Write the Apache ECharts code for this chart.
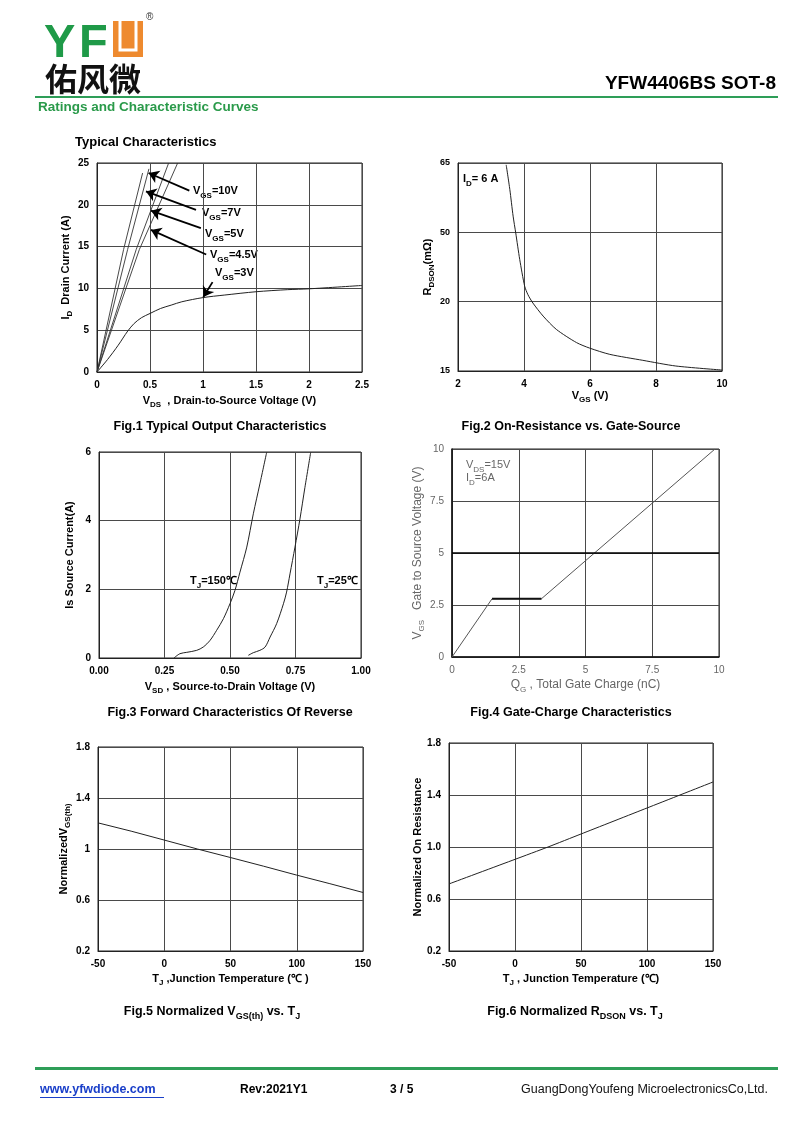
<!DOCTYPE html>
<html><head><meta charset="utf-8">
<script src="https://cdn.jsdelivr.net/npm/echarts@6/dist/echarts.min.js"></script>
<style>html,body{margin:0;padding:0;background:#fff}#c{width:800px;height:1130px}</style>
</head><body><div id="c"></div>
<script>
const F = '"Liberation Sans", Arial, Helvetica, sans-serif';
const CJK = '"Noto Sans CJK SC", sans-serif';

// ---------- Fig.1 Typical Output Characteristics ----------
const fig1XTicks = [0, 2.5, 0.5];   // min, max, interval
const fig1YTicks = [0, 25, 5];
const vgs3vV = [0, 0.1, 0.2, 0.29, 0.35, 0.42, 0.5, 0.6, 0.7, 0.8, 1.0, 1.2, 1.5, 1.8, 2.0, 2.5];
const vgs3vI = [0, 1.5, 3.2, 4.9, 5.8, 6.5, 7.0, 7.6, 8.0, 8.4, 8.9, 9.2, 9.6, 9.85, 9.95, 10.35];
const steepV = [[0, 0.251, 0.43], [0, 0.289, 0.49], [0, 0.37, 0.676], [0, 0.40, 0.761]];
const steepI = [[0, 14.66, 23.8], [0, 14.66, 24.3], [0, 14.66, 25], [0, 14.66, 25]];
const arrowNames = ['10V', '7V', '5V', '4.5V', '3V'];
const arrowTail = [[0.871, 21.7], [0.934, 19.4], [0.98, 17.2], [1.03, 14.05], [1.09, 10.75]];
const arrowTip = [[0.487, 23.8], [0.462, 21.6], [0.509, 19.3], [0.509, 17.0], [1.003, 8.96]];

// ---------- Fig.2 On-Resistance vs Gate-Source ----------
const fig2XTicks = [2, 10, 2];
const fig2YLabels = [15, 20, 50, 65];   // evenly spaced tick labels as printed
const fig2Vgs = [3.46, 3.57, 3.67, 3.75, 3.87, 4.02, 4.12, 4.27, 4.58, 4.98, 5.59, 5.99, 6.6, 7.6, 8.6, 10];
const fig2R = [64.6, 59.3, 53.5, 49.7, 38.3, 26.7, 23.0, 19.9, 18.96, 18.0, 17.05, 16.65, 16.2, 15.77, 15.36, 15.07];

// ---------- Fig.3 Forward Characteristics of Reverse ----------
const fig3XTicks = [0, 1, 0.25];
const fig3YTicks = [0, 6, 2];
const t150V = [0.286, 0.309, 0.335, 0.373, 0.398, 0.424, 0.449, 0.475, 0.5, 0.519, 0.538, 0.564, 0.589, 0.614, 0.64];
const t150I = [0, 0.126, 0.165, 0.223, 0.32, 0.515, 0.806, 1.146, 1.583, 1.97, 2.5, 3.23, 4.2, 5.07, 5.99];
const t25V = [0.57, 0.589, 0.614, 0.634, 0.653, 0.678, 0.704, 0.716, 0.729, 0.748, 0.767, 0.786, 0.808];
const t25I = [0.078, 0.155, 0.223, 0.32, 0.61, 1.0, 1.58, 1.92, 2.45, 3.23, 4.05, 4.97, 5.99];

// ---------- Fig.4 Gate-Charge ----------
const fig4XTicks = [0, 10, 2.5];
const fig4YTicks = [0, 10, 2.5];
const gateQ = [0, 1.5, 3.35, 9.85];
const gateV = [0, 2.8, 2.8, 10];

// ---------- Fig.5 Normalized VGS(th) vs TJ ----------
const tempXTicks = [-50, 150, 50];
const normYTicks = [0.2, 1.8, 0.4];
const fig5T = [-50, -25, 0, 25, 50, 75, 100, 125, 150];
const fig5V = [1.205, 1.14, 1.07, 1.0, 0.933, 0.865, 0.795, 0.728, 0.659];

// ---------- Fig.6 Normalized RDSON vs TJ ----------
const fig6T = [-50, 0, 25, 50, 100, 150];
const fig6R = [0.716, 0.905, 1.0, 1.1, 1.3, 1.5];

// ---------- helpers ----------
function zip(a, b) { return a.map((v, i) => [v, b[i]]); }
function fig2Pos(r) { // map printed value to even-spaced axis position
  const t = fig2YLabels;
  for (let i = 0; i < t.length - 1; i++) {
    if (r <= t[i + 1]) return i + (r - t[i]) / (t[i + 1] - t[i]);
  }
  return t.length - 1;
}
const subRich = (sz, grey) => ({
  n: { fontSize: sz, fontWeight: grey ? 'normal' : 'bold', fontFamily: F, color: grey ? '#666' : '#000' },
  s: { fontSize: Math.round(sz * 0.7), fontWeight: grey ? 'normal' : 'bold', fontFamily: F, color: grey ? '#666' : '#000', verticalAlign: 'bottom', padding: [0, 0, -3, 0] }
});

const grids = [
  { left: 97, top: 163, width: 265, height: 209 },
  { left: 458, top: 163, width: 264, height: 208 },
  { left: 99, top: 452, width: 262, height: 206 },
  { left: 452, top: 449, width: 267, height: 208 },
  { left: 98, top: 747, width: 265, height: 204 },
  { left: 449, top: 743, width: 264, height: 208 }
].map(g => Object.assign(g, { show: true, borderColor: '#222', borderWidth: 1, backgroundColor: 'transparent', containLabel: false }));

function axis(gi, ticks, o) {
  o = o || {};
  const grey = !!o.grey;
  return {
    type: 'value', gridIndex: gi, min: ticks[0], max: ticks[1], interval: ticks[2],
    axisLine: { show: true, onZero: false, lineStyle: { color: grey ? '#111' : '#222', width: grey ? 1.5 : 1 } },
    axisTick: { show: false },
    splitLine: { show: true, lineStyle: { color: '#4a4a4a', width: 1 } },
    axisLabel: {
      color: grey ? '#666' : '#000', fontSize: o.labelSize || 10, fontWeight: grey ? 'normal' : 'bold',
      fontFamily: F, margin: o.margin || 8, formatter: o.formatter
    },
    name: o.name, nameLocation: 'middle', nameGap: o.nameGap || 22,
    nameTextStyle: { fontSize: o.nameSize || 11, fontWeight: grey ? 'normal' : 'bold', fontFamily: F, color: grey ? '#666' : '#000', rich: subRich(o.nameSize || 11, grey) }
  };
}

const xAxis = [
  axis(0, fig1XTicks, { name: '{n|V}{s|DS}{n|  , Drain-to-Source Voltage (V)}', nameGap: 23 }),
  axis(1, fig2XTicks, { name: '{n|V}{s|GS}{n| (V)}', nameGap: 19 }),
  axis(2, fig3XTicks, { name: '{n|V}{s|SD}{n| , Source-to-Drain Voltage (V)}', nameGap: 23, formatter: v => v.toFixed(2) }),
  axis(3, fig4XTicks, { name: '{n|Q}{s|G}{n| , Total Gate Charge (nC)}', nameGap: 22, grey: true, nameSize: 12 }),
  axis(4, tempXTicks, { name: '{n|T}{s|J}{n| ,Junction Temperature (℃ )}', nameGap: 22 }),
  axis(5, tempXTicks, { name: '{n|T}{s|J}{n| , Junction Temperature (℃)}', nameGap: 22 })
];
const yAxis = [
  axis(0, fig1YTicks, { name: '{n|I}{s|D}{n|  Drain Current (A)}', nameGap: 20 }),
  axis(1, [0, fig2YLabels.length - 1, 1], { name: '{n|R}{s|DSON}{n|(mΩ)}', nameGap: 18, labelSize: 9, formatter: v => String(fig2YLabels[Math.round(v)]) }),
  axis(2, fig3YTicks, { name: '{n|Is Source Current(A)}', nameGap: 24 }),
  axis(3, fig4YTicks, { name: '{n|V}{s|GS}{n|   Gate to Source Voltage (V)}', nameGap: 22, grey: true, nameSize: 12 }),
  axis(4, normYTicks, { name: '{n|NormalizedV}{s|GS(th)}', nameGap: 16 }),
  axis(5, normYTicks, { name: '{n|Normalized On Resistance}', nameGap: 15, formatter: v => v.toFixed(1) })
];

const lineBase = (xi, data, o) => Object.assign({
  type: 'line', xAxisIndex: xi, yAxisIndex: xi, data: data, showSymbol: false, symbol: 'none',
  lineStyle: { color: '#222', width: 1 }, silent: true, animation: false
}, o || {});

const series = [];
// Fig1
series.push(lineBase(0, zip(vgs3vV, vgs3vI), {
  smooth: 0.3,
  markLine: {
    silent: true, symbol: ['none', 'arrow'], symbolSize: 10, animation: false,
    lineStyle: { color: '#000', width: 1.8, type: 'solid' }, label: { show: false },
    data: arrowTail.map((t, i) => [{ coord: t }, { coord: arrowTip[i] }])
  }
}));
steepV.forEach((xs, i) => series.push(lineBase(0, zip(xs, steepI[i]), { lineStyle: { color: '#333', width: 0.9 } })));
// Fig2
series.push(lineBase(1, fig2Vgs.map((v, i) => [v, fig2Pos(fig2R[i])]), { smooth: 0.25 }));
// Fig3
series.push(lineBase(2, zip(t150V, t150I), { smooth: 0.3 }));
series.push(lineBase(2, zip(t25V, t25I), { smooth: 0.3 }));
// Fig4
series.push(lineBase(3, zip(gateQ, gateV), {
  lineStyle: { color: '#555', width: 1 },
  markLine: { silent: true, symbol: 'none', animation: false, label: { show: false }, lineStyle: { color: '#000', width: 1.6, type: 'solid' }, data: [{ yAxis: 5 }] }
}));
series.push(lineBase(3, zip(gateQ.slice(1, 3), gateV.slice(1, 3)), { lineStyle: { color: '#111', width: 2 } }));
// Fig5, Fig6
series.push(lineBase(4, zip(fig5T, fig5V)));
series.push(lineBase(5, zip(fig6T, fig6R), { smooth: 0.2 }));

// ---------- page graphics (text) ----------
function txt(x, y, text, o) {
  o = o || {};
  const st = {
    text: text, x: 0, y: 0, fill: o.color || '#000', fontSize: o.size || 12, fontWeight: o.weight || 'bold',
    fontFamily: o.family || F, align: o.align || 'left', textAlign: o.align || 'left',
    verticalAlign: 'middle', textVerticalAlign: 'middle'
  };
  if (o.rich) st.rich = o.rich;
  return { type: 'text', x: x, y: y, silent: true, style: st };
}
const richB = (sz) => ({
  n: { fontSize: sz, fontWeight: 'bold', fontFamily: F, fill: '#000', color: '#000' },
  s: { fontSize: Math.round(sz * 0.72), fontWeight: 'bold', fontFamily: F, fill: '#000', color: '#000', verticalAlign: 'bottom', padding: [0, 0, -3, 0] }
});
const richG = (sz) => ({
  n: { fontSize: sz, fontWeight: 'normal', fontFamily: F, fill: '#666', color: '#666' },
  s: { fontSize: Math.round(sz * 0.72), fontWeight: 'normal', fontFamily: F, fill: '#666', color: '#666', verticalAlign: 'bottom', padding: [0, 0, -3, 0] }
});

const labelPos = [[193, 191], [202, 213], [205, 234], [210, 255], [215, 273]];
const graphic = [
  // logo
  txt(44, 44, 'Y', { size: 47, color: '#1f9a48', family: F }),
  txt(79, 44, 'F', { size: 47, color: '#1f9a48', family: F }),
  { type: 'rect', silent: true, shape: { x: 113, y: 21, width: 30, height: 36 }, style: { fill: '#ee8a2f' } },
  { type: 'polyline', silent: true, shape: { points: [[120, 21], [120, 50], [136, 50], [136, 21]] }, style: { stroke: '#fff', lineWidth: 3, fill: null } },
  txt(146, 17, '®', { size: 10, weight: 'normal', color: '#333' }),
  txt(45, 79, '佑风微', { size: 32, family: CJK, weight: 'bold', color: '#111' }),
  txt(776, 84, 'YFW4406BS SOT-8', { size: 19, align: 'right' }),
  { type: 'rect', silent: true, shape: { x: 35, y: 96, width: 743, height: 2 }, style: { fill: '#2e9e58' } },
  txt(38, 107, 'Ratings and Characteristic Curves', { size: 13.5, color: '#2a9a4a' }),
  txt(75, 142, 'Typical Characteristics', { size: 13 }),
  // figure titles
  txt(220, 427, 'Fig.1 Typical Output Characteristics', { size: 12.5, align: 'center' }),
  txt(571, 427, 'Fig.2 On-Resistance vs. Gate-Source', { size: 12.5, align: 'center' }),
  txt(230, 713, 'Fig.3 Forward Characteristics Of Reverse', { size: 12.5, align: 'center' }),
  txt(571, 713, 'Fig.4 Gate-Charge Characteristics', { size: 12.5, align: 'center' }),
  txt(212, 1012, '{n|Fig.5 Normalized V}{s|GS(th)}{n| vs. T}{s|J}', { size: 12.5, align: 'center', rich: richB(12.5) }),
  txt(575, 1012, '{n|Fig.6 Normalized R}{s|DSON}{n| vs. T}{s|J}', { size: 12.5, align: 'center', rich: richB(12.5) }),
  // fig annotations
  txt(463, 179, '{n|I}{s|D}{n|= 6 A}', { size: 11, rich: richB(11) }),
  txt(190, 581, '{n|T}{s|J}{n|=150℃}', { size: 11, rich: richB(11) }),
  txt(317, 581, '{n|T}{s|J}{n|=25℃}', { size: 11, rich: richB(11) }),
  txt(466, 465, '{n|V}{s|DS}{n|=15V}', { size: 11, rich: richG(11) }),
  txt(466, 478, '{n|I}{s|D}{n|=6A}', { size: 11, rich: richG(11) }),
  // footer
  { type: 'rect', silent: true, shape: { x: 35, y: 1067, width: 743, height: 3 }, style: { fill: '#2e9e58' } },
  txt(40, 1090, 'www.yfwdiode.com', { size: 12.5, color: '#1a3fc9' }),
  { type: 'rect', silent: true, shape: { x: 40, y: 1097, width: 124, height: 1 }, style: { fill: '#1a3fc9' } },
  txt(240, 1090, 'Rev:2021Y1', { size: 12 }),
  txt(390, 1090, '3 / 5', { size: 12 }),
  txt(768, 1090, 'GuangDongYoufeng MicroelectronicsCo,Ltd.', { size: 12.5, weight: 'normal', align: 'right', color: '#111' })
];
arrowNames.forEach((nm, i) => graphic.push(
  txt(labelPos[i][0], labelPos[i][1], '{n|V}{s|GS}{n|=' + nm + '}', { size: 11, rich: richB(11) })
));

const chart = echarts.init(document.getElementById('c'), null, { renderer: 'canvas' });
chart.setOption({
  animation: false,
  backgroundColor: '#fff',
  grid: grids, xAxis: xAxis, yAxis: yAxis, series: series, graphic: graphic
});
</script></body></html>
